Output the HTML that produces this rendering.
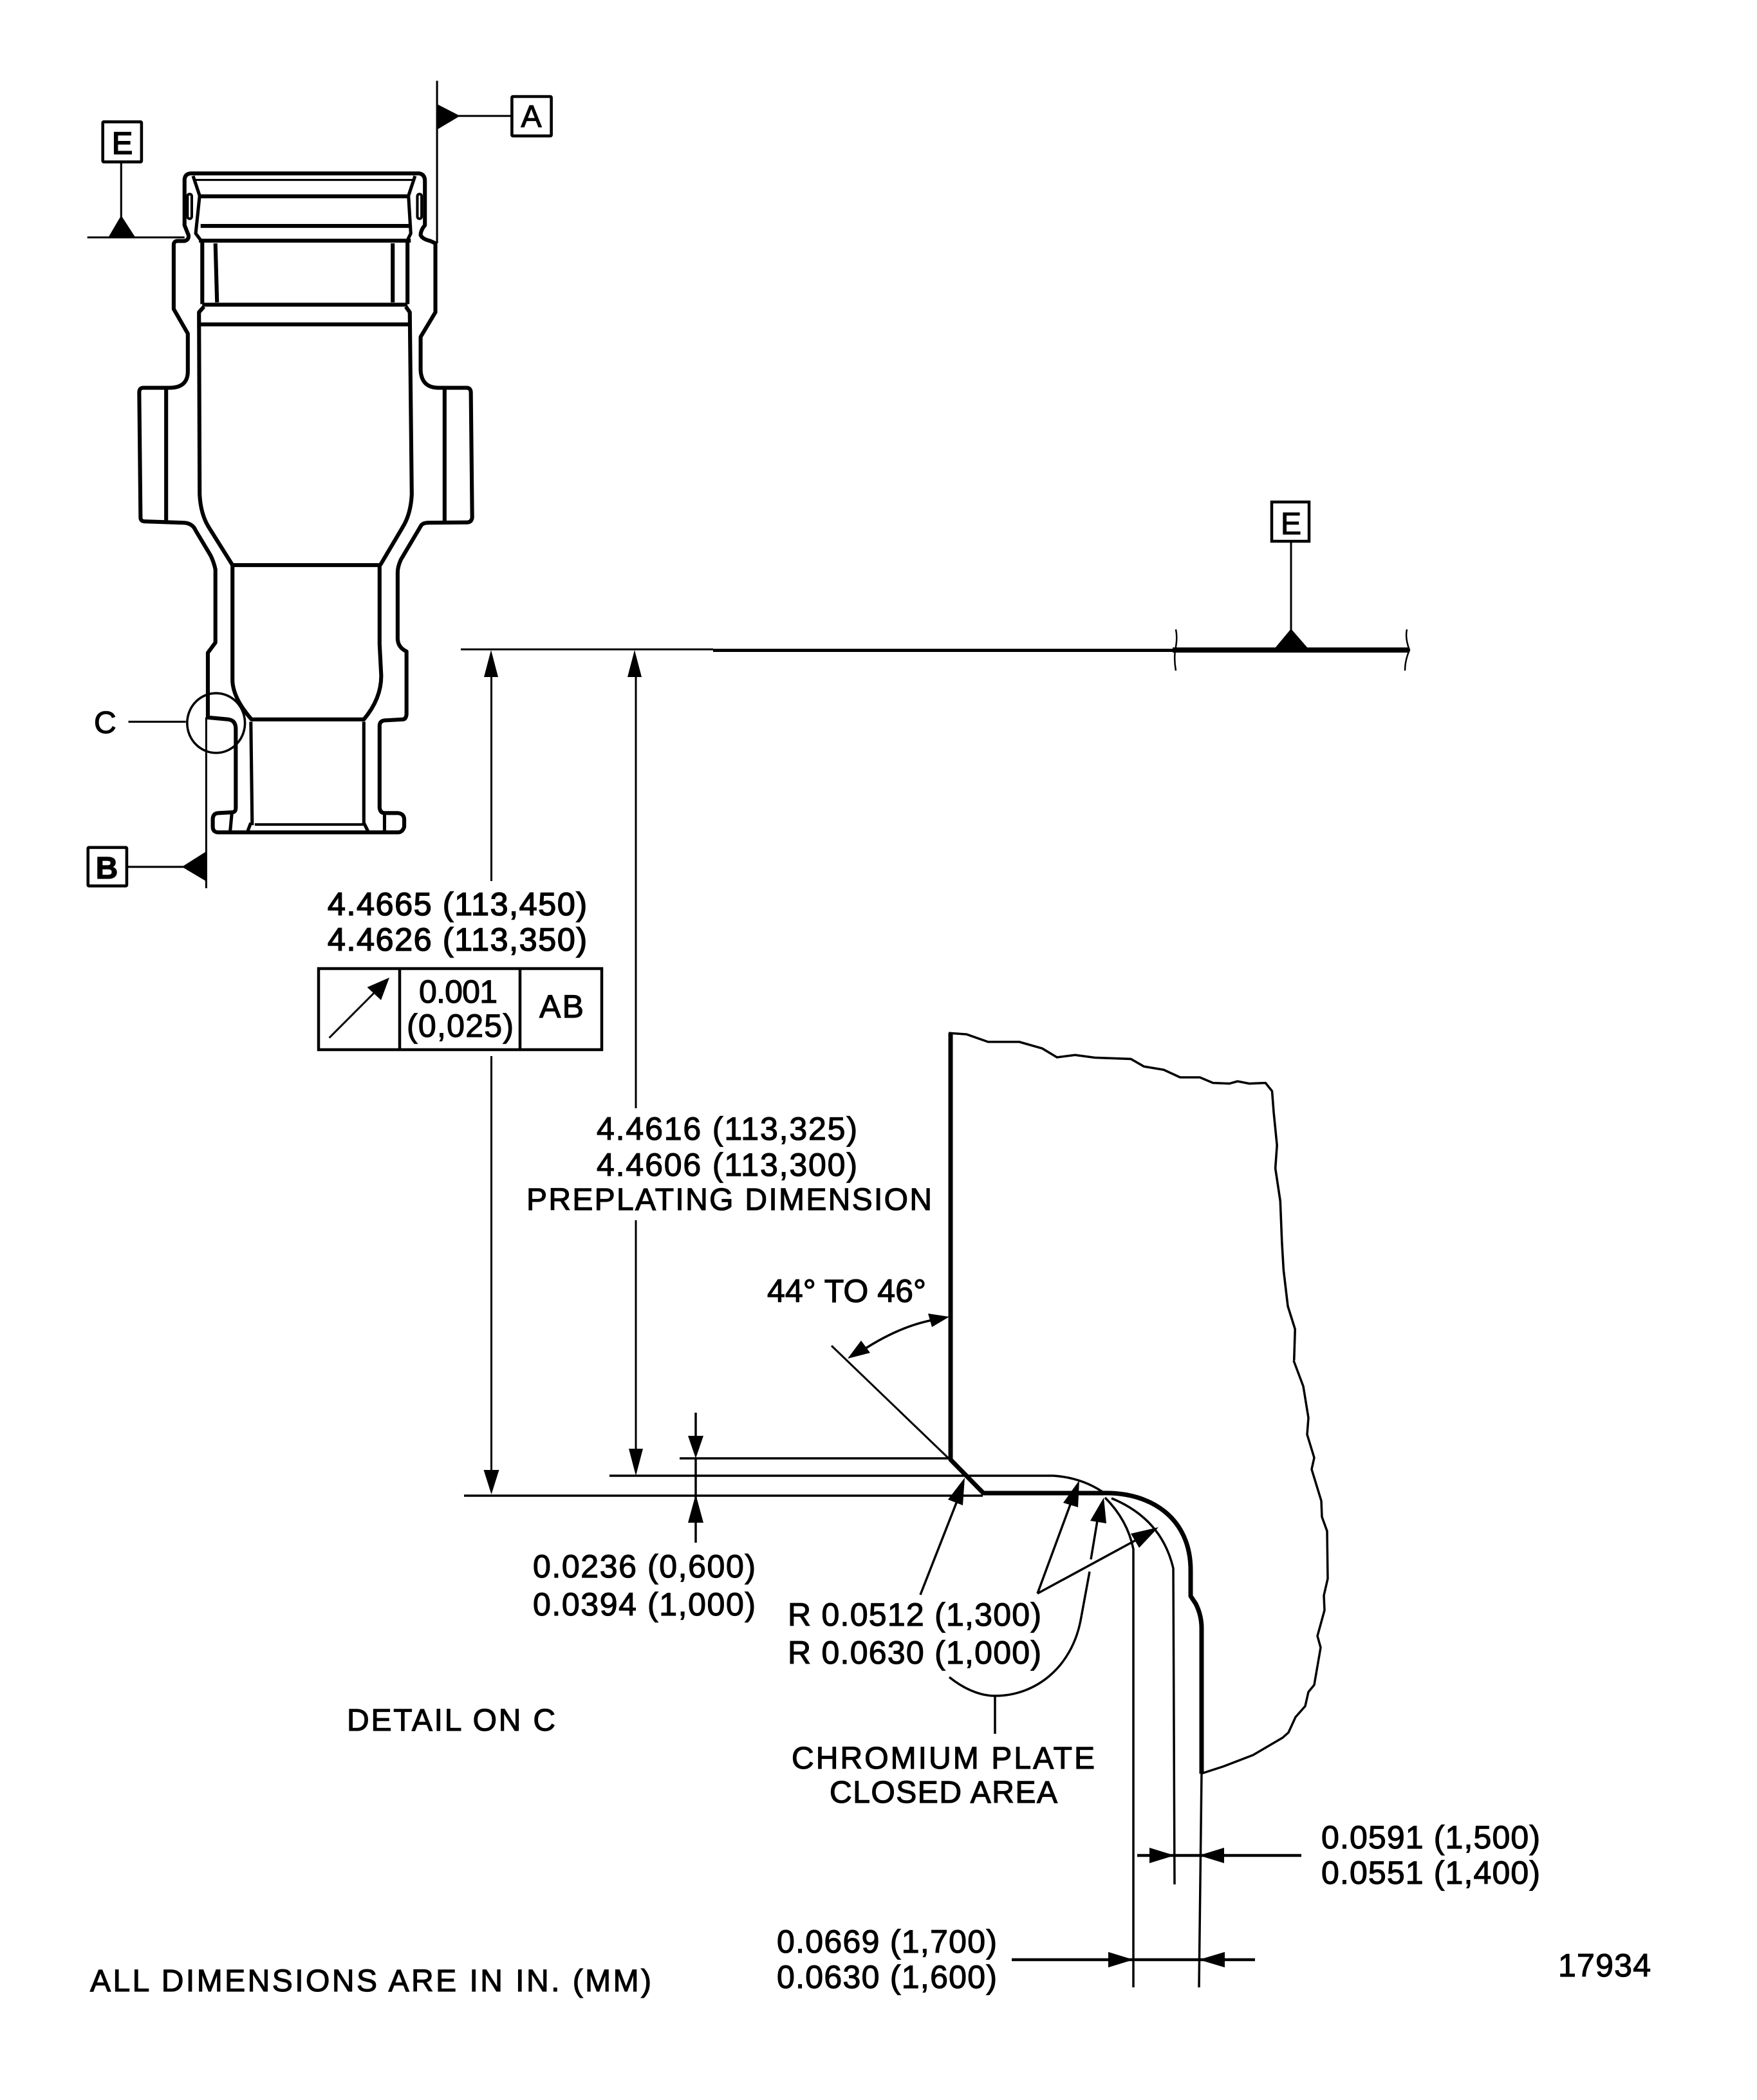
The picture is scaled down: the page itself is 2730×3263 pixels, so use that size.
<!DOCTYPE html>
<html><head><meta charset="utf-8"><style>
html,body{margin:0;padding:0;background:#fff}
svg{display:block}
text{font-family:"Liberation Sans",sans-serif;font-size:50px;fill:#000;stroke:#000;stroke-width:1.2px}
.c{font-size:48px}
</style></head><body>
<svg width="2730" height="3263" viewBox="0 0 2730 3263" xmlns="http://www.w3.org/2000/svg">
<rect width="2730" height="3263" fill="#fff"/>

<!-- Part -->
<g transform="translate(100,100) scale(.5102)" fill="none" stroke="#000" stroke-width="12" stroke-linejoin="round">
<path d="M385,332 L1080,332 Q1098,335 1098,355 L1098,490 Q1085,505 1085,520 Q1090,532 1115,538 L1130,545 L1130,755 L1085,830 L1085,930 Q1087,985 1140,985 L1225,985 Q1238,985 1238,1000 L1242,1380 Q1240,1395 1225,1395 L1110,1396 Q1090,1396 1085,1407 L1025,1508 Q1015,1530 1015,1548 L1015,1748 Q1015,1775 1042,1788 L1042,1980 Q1040,1995 1030,1995 L975,1998 Q960,2000 960,2015 L960,2264 Q962,2280 975,2280 L1015,2280 Q1035,2282 1035,2300 L1035,2322 Q1030,2339 1015,2339 L470,2339 Q452,2339 452,2322 L452,2300 Q452,2280 470,2280 L510,2278 Q522,2278 522,2264 L522,2024 Q522,1998 500,1995 L437,1989 L437,1792 L460,1761 L460,1538 Q455,1515 445,1495 L400,1420 Q390,1396 360,1396 L245,1392 Q232,1392 232,1380 L228,1000 Q228,985 240,985 L320,985 Q376,985 376,935 L376,820 L333,745 L333,550 Q333,538 345,538 L365,538 Q380,535 378,520 L366,490 L366,350 Q368,333 385,332 Z"/>
<path d="M392,340 L412,400 L400,515 L415,535 M1068,340 L1048,400 L1055,515 L1045,535" stroke-width="10"/>
<path d="M400,352 H1060" stroke-width="6"/>
<path d="M412,402 H1050 M415,492 H1050 M410,537 H1055"/>
<rect x="375" y="395" width="13" height="75" rx="6" stroke-width="8"/>
<rect x="1075" y="395" width="13" height="75" rx="6" stroke-width="8"/>
<path d="M420,540 V730 M460,545 L465,725 M1000,545 V725 M1045,540 V730 M420,732 H1045"/>
<path d="M425,738 L410,755 L412,1310 Q415,1370 440,1410 L512,1525 M1040,738 L1052,755 L1058,1310 Q1055,1370 1030,1410 L962,1525"/>
<path d="M415,792 H1052 M310,985 V1392 M1158,985 V1392"/>
<path d="M512,1525 H962 M512,1525 V1766 L512,1879 Q515,1932 570,1995 H912 Q965,1932 965,1862 L960,1766 V1525"/>
<path d="M568,2002 L572,2317 M912,2002 V2317 M568,2310 L558,2336 M912,2310 L925,2336 M510,2282 L505,2335 M975,2282 V2335" stroke-width="10"/>
<path d="M580,2315 H910" stroke-width="8"/>
<ellipse cx="462" cy="2006" rx="88" ry="91" stroke-width="7"/>
<!-- datum E left -->
<rect x="117" y="175" width="118" height="122" stroke-width="9" rx="3"/>
<path d="M173,297 V465" stroke-width="6"/>
<path d="M70,527 H366" stroke-width="6"/>
<polygon points="173,460 135,525 215,525" fill="#000" stroke="none"/>
<!-- datum A -->
<rect x="1363" y="98" width="120" height="120" stroke-width="9" rx="3"/>
<path d="M1200,157 H1363" stroke-width="6"/>
<path d="M1135,50 V545" stroke-width="6"/>
<polygon points="1133,120 1133,200 1205,157" fill="#000" stroke="none"/>
<!-- datum B -->
<rect x="72" y="2385" width="118" height="117" stroke-width="9" rx="3"/>
<path d="M190,2444 H365" stroke-width="6"/>
<path d="M432,1989 V2509" stroke-width="6"/>
<polygon points="432,2397 432,2488 358,2444" fill="#000" stroke="none"/>
<!-- C leader -->
<path d="M195,2002 H370" stroke-width="6"/>
</g>

<text x="190" y="239" text-anchor="middle" class="c" style="stroke-width:2px">E</text>
<text x="825.500" y="197" text-anchor="middle" class="c">A</text>
<text x="166" y="1365" text-anchor="middle" class="c" font-weight="bold">B</text>
<text x="146" y="1139" class="c">C</text>

<!-- top datum line -->
<g fill="none" stroke="#000">
<path d="M716,1009 H1108" stroke-width="3"/>
<path d="M1108,1010.500 H1822" stroke-width="5"/>
<path d="M1822,1010 H2190" stroke-width="8"/>
<path d="M1827,978 Q1830,992 1826,1010 Q1824,1026 1827,1042 M2186,978 Q2183,992 2190,1010 Q2183,1026 2183,1042" stroke-width="2.500"/>
<rect x="1976" y="780" width="58" height="61" stroke-width="4.500"/>
<path d="M2006,842 V980" stroke-width="3"/>
<path d="M763.500,1050 V1369 M763.500,1641 V2290" stroke-width="3"/>
<path d="M988,1050 V1722 M988,1896 V2255" stroke-width="3"/>
</g>
<polygon points="2006,977 1981,1007 2032,1007" fill="#000"/>
<polygon points="763,1010 752,1052 774,1052" fill="#000"/>
<polygon points="986,1010 975,1052 997,1052" fill="#000"/>
<polygon points="763.500,2322 751.500,2284 775.500,2284" fill="#000"/>
<polygon points="988,2293 977,2251 999,2251" fill="#000"/>
<text x="2006" y="830" text-anchor="middle" class="c">E</text>

<!-- FCF -->
<g fill="none" stroke="#000" stroke-width="4.500">
<rect x="495" y="1505" width="440" height="126"/>
<path d="M621,1505 V1631 M808,1505 V1631"/>
<path d="M511.600,1612.600 L585,1539" stroke-width="3"/>
</g>
<polygon points="605,1519 570.500,1534 592,1554" fill="#000"/>
<text x="509" y="1422" textLength="403" style="stroke-width:1.6px">4.4665 (113,450)</text>
<text x="509" y="1477" textLength="403" style="stroke-width:1.6px">4.4626 (113,350)</text>
<text x="651" y="1558" textLength="122">0.001</text>
<text x="632" y="1611" textLength="166">(0,025)</text>
<text x="838" y="1581" textLength="69">AB</text>

<text x="927" y="1771" textLength="405">4.4616 (113,325)</text>
<text x="927" y="1827" textLength="405">4.4606 (113,300)</text>
<text x="818" y="1880" textLength="630" class="c">PREPLATING DIMENSION</text>
<text x="1192" y="2023" textLength="247">44° TO 46°</text>

<!-- Detail -->
<g fill="none" stroke="#000" stroke-linejoin="round">
<path d="M1477,1605 V2268 L1528,2320 H1713 C1790,2318 1850,2360 1850,2440 V2480 L1858,2492 Q1867,2510 1867,2530 V2756" stroke-width="7"/>
<path d="M1867,2756 L1863,3088" stroke-width="3.500"/>
<path d="M1637,2293 Q1680,2296 1713,2318 M1727,2328 Q1805,2360 1823,2437 L1825,2928 M1717,2327 Q1752,2362 1761,2407 V3088" stroke-width="3.500"/>
<path d="M1056,2266 H1475 M947,2293 H1637 M721,2324 H1527" stroke-width="3.500"/>
<path d="M1292,2091 L1475,2267" stroke-width="3"/>
<path d="M1330,2105 Q1395,2060 1455,2050" stroke-width="3.500"/>
<path d="M1430,2478 L1488,2330 M1612,2476 L1664,2335 M1612,2476 L1765,2393 M1705,2363 L1695,2423 M1693,2442 L1679,2518 C1665,2590 1610,2635 1546,2635 C1520,2635 1495,2622 1475,2606 M1546,2635 V2694" stroke-width="3.500"/>
<path d="M1081,2195 V2235 M1081,2266 V2330 M1081,2362 V2397" stroke-width="3.500"/>
<path d="M1767,2883 H2022 M1572,3045 H1950" stroke-width="4.500"/>
<path transform="translate(1400,1550) scale(.5102)" stroke-width="7" d="M145,108 L200,112 L265,135 L360,135 L430,155 L475,182 L530,175 L590,183 L700,187 L740,210 L800,220 L850,243 L910,243 L950,260 L1000,262 L1025,255 L1060,262 L1110,260 L1130,285 L1135,350 L1145,450 L1140,520 L1155,620 L1160,745 L1165,830 L1178,940 L1200,1010 L1197,1105"/>
<path stroke-width="3.500" d="M2010,2114 L2025,2154 L2033,2203 L2031,2229 L2042,2265 L2038,2283 L2053,2332 L2054,2357 L2062,2379 L2063,2453 L2057,2479 L2058,2502 L2047,2542 L2052,2560 L2042,2618 L2033,2629 L2028,2651 L2013,2668 L2002,2692 L1993,2700 L1947,2727 L1900,2745 L1866,2756"/>
</g>
<g fill="#000">
<polygon points="1499,2296 1473,2330 1496,2339"/>
<polygon points="1677,2300 1652,2335 1675,2342"/>
<polygon points="1800,2373 1757,2383 1770,2405"/>
<polygon points="1715,2327 1694,2363 1719,2367"/>
<polygon points="1475,2046 1442,2041 1448,2062"/>
<polygon points="1317,2111 1338,2083 1352,2102"/>
<polygon points="1081,2266 1069,2231 1093,2231"/>
<polygon points="1081,2322 1069,2366 1093,2366"/>
<polygon points="1825,2883 1786,2871 1786,2895"/>
<polygon points="1863,2883 1902,2871 1902,2895"/>
<polygon points="1761,3045 1722,3033 1722,3057"/>
<polygon points="1863,3045 1903,3033 1903,3057"/>
</g>

<text x="828" y="2451" textLength="346">0.0236 (0,600)</text>
<text x="828" y="2510" textLength="346">0.0394 (1,000)</text>
<text x="1224" y="2526" textLength="394">R 0.0512 (1,300)</text>
<text x="1224" y="2585" textLength="394">R 0.0630 (1,000)</text>
<text x="1230" y="2748" textLength="471" class="c">CHROMIUM PLATE</text>
<text x="1289" y="2801" textLength="354" class="c">CLOSED AREA</text>
<text x="539" y="2689" textLength="324" class="c">DETAIL ON C</text>
<text x="140" y="3094" textLength="872" class="c">ALL DIMENSIONS ARE IN IN. (MM)</text>
<text x="1207" y="3034" textLength="342">0.0669 (1,700)</text>
<text x="1207" y="3089" textLength="342">0.0630 (1,600)</text>
<text x="2053" y="2872" textLength="340">0.0591 (1,500)</text>
<text x="2053" y="2927" textLength="340">0.0551 (1,400)</text>
<text x="2421" y="3071" textLength="144">17934</text>
</svg>
</body></html>
